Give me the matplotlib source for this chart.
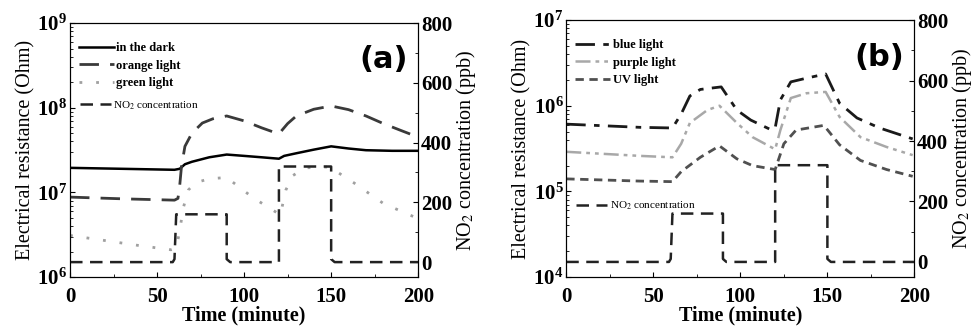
import matplotlib.pyplot as plt
from matplotlib.lines import Line2D

plt.rcParams['font.family'] = ['Liberation Serif', 'DejaVu Serif']
plt.rcParams['mathtext.fontset'] = 'stix'

# NO2 steps (shared by both panels)
no2_t = [0, 59, 60, 61, 90, 90, 92, 120, 120, 150, 150, 152, 200]
no2_c = [0, 0, 10, 160, 160, 10, 0, 0, 320, 320, 10, 0, 0]

# panel (a)
dark_t = [0, 30, 60, 63, 66, 70, 80, 90, 100, 110, 120, 123, 130, 140, 150, 160, 170, 185, 200]
dark_r = [1.95e7, 1.9e7, 1.85e7, 1.9e7, 2.15e7, 2.3e7, 2.6e7, 2.8e7, 2.7e7, 2.6e7, 2.5e7,
          2.7e7, 2.9e7, 3.2e7, 3.5e7, 3.3e7, 3.15e7, 3.1e7, 3.1e7]
orange_t = [0, 30, 60, 62, 63, 64, 66, 70, 76, 82, 90, 100, 110, 120, 122, 125, 130, 140, 150,
            160, 170, 180, 190, 200]
orange_r = [8.8e6, 8.4e6, 8.1e6, 8.5e6, 1.2e7, 2e7, 3.5e7, 5e7, 6.6e7, 7.4e7, 8e7, 7e7, 5.8e7,
            4.9e7, 5.5e7, 6.5e7, 8e7, 9.6e7, 1.05e8, 9.5e7, 8e7, 6.5e7, 5.4e7, 4.5e7]
green_t = [0, 20, 40, 58, 61, 63, 65, 68, 72, 80, 90, 105, 118, 121, 122, 124, 128, 135, 149,
           163, 180, 199]
green_r = [3.1e6, 2.7e6, 2.35e6, 2.1e6, 2.2e6, 3.5e6, 6.5e6, 1.07e7, 1.3e7, 1.45e7, 1.5e7, 8.7e6,
           5.9e6, 5.4e6, 7e6, 1.07e7, 1.58e7, 1.95e7, 2e7, 1.3e7, 7.4e6, 5e6]

# panel (b)
blue_t = [0, 42, 61, 66, 71, 77, 89, 98, 106, 118, 120, 123, 129, 138, 149, 157, 167, 180, 199]
blue_r = [6.1e5, 5.6e5, 5.5e5, 8.0e5, 1.3e6, 1.55e6, 1.66e6, 8.9e5, 6.8e5, 5.2e5, 5.5e5, 1.17e6,
          1.9e6, 2.1e6, 2.35e6, 1.07e6, 7.2e5, 5.5e5, 4.1e5]
purple_t = [0, 42, 61, 66, 71, 81, 88, 98, 107, 120, 123, 129, 138, 149, 157, 169, 184, 199]
purple_r = [2.9e5, 2.6e5, 2.5e5, 3.6e5, 6.3e5, 8.9e5, 1e6, 6.3e5, 4.3e5, 3.1e5, 5.2e5, 1.23e6,
            1.4e6, 1.45e6, 7.4e5, 4.3e5, 3.3e5, 2.65e5]
uv_t = [0, 42, 61, 66, 77, 88, 98, 107, 120, 125, 132, 148, 157, 169, 184, 199]
uv_r = [1.4e5, 1.32e5, 1.3e5, 1.7e5, 2.5e5, 3.4e5, 2.4e5, 2.0e5, 1.8e5, 3.6e5, 5.2e5, 5.9e5,
        3.5e5, 2.3e5, 1.8e5, 1.5e5]

fig = plt.figure(figsize=(9.78, 3.35), dpi=100)
ax1 = fig.add_axes([0.0716, 0.173, 0.356, 0.758])
ax2 = fig.add_axes([0.579, 0.173, 0.356, 0.767])

TICK = 15


def style(ax, ylo, yhi, label):
    ax.set_yscale('log')
    ax.set_ylim(ylo, yhi)
    ax.set_xlim(0, 200)
    ax.set_xticks([0, 50, 100, 150, 200])
    ax.set_xticks(range(0, 201, 25), minor=True)
    ax.tick_params(which='both', direction='in', labelsize=TICK)
    ax.tick_params(axis='y', which='major', pad=2)
    ax.tick_params(axis='x', which='major', pad=7)
    for lab in ax.get_xticklabels() + ax.get_yticklabels():
        lab.set_fontweight('bold')
    ax.set_xlabel('Time (minute)', fontsize=14.5, fontweight='bold', labelpad=-1)
    ax.set_ylabel('Electrical resistance (Ohm)', fontsize=14.5, labelpad=1)
    ax.text(0.9, 0.855, label, transform=ax.transAxes, fontsize=22, fontweight='bold',
            family=['DejaVu Sans'], ha='center', va='center')
    tw = ax.twinx()
    tw.set_ylim(-50, 800)
    tw.set_yticks([0, 200, 400, 600, 800])
    tw.set_yticks(range(0, 801, 100), minor=True)
    tw.tick_params(which='both', direction='in', labelsize=TICK, pad=2)
    for lab in tw.get_yticklabels():
        lab.set_fontweight('bold')
    tw.set_ylabel('NO$_2$ concentration (ppb)', fontsize=14.5, labelpad=1)
    tw.plot(no2_t, no2_c, color='#222222', lw=1.8, dashes=(5, 3))
    return tw


tw1 = style(ax1, 1e6, 1e9, '(a)')
ax1.plot(dark_t, dark_r, color='black', lw=1.8, label='in the dark')
ax1.plot(orange_t, orange_r, color='#3a3a3a', lw=2.0, dashes=(7, 4), label='orange light')
ax1.plot(green_t, green_r, color='#a0a0a0', lw=2.0, dashes=(1, 5), label='green light')
leg = ax1.legend(loc='upper left', bbox_to_anchor=(0.0, 0.96), frameon=False,
                 prop={'size': 9, 'weight': 'bold'}, handlelength=2.8, handletextpad=0.2,
                 labelspacing=0.45, borderaxespad=0.3)
nh = Line2D([], [], color='#222222', lw=1.8, dashes=(5, 3))
ax1.add_artist(leg)
ax1.legend([nh], ['NO$_2$ concentration'], loc='upper left', bbox_to_anchor=(0.0, 0.74),
           frameon=False, prop={'size': 8}, handlelength=2.8, handletextpad=0.2)

tw2 = style(ax2, 1e4, 1e7, '(b)')
ax2.plot(blue_t, blue_r, color='#1a1a1a', lw=2.0, dashes=(7, 3, 2, 3), label='blue light')
ax2.plot(purple_t, purple_r, color='#a8a8a8', lw=1.8, dashes=(6, 2, 1.5, 2, 1.5, 2),
         label='purple light')
ax2.plot(uv_t, uv_r, color='#505050', lw=2.0, dashes=(3, 2), label='UV light')
leg2 = ax2.legend(loc='upper left', bbox_to_anchor=(0.0, 0.96), frameon=False,
                  prop={'size': 9, 'weight': 'bold'}, handlelength=2.8, handletextpad=0.2,
                  labelspacing=0.45, borderaxespad=0.3)
ax2.add_artist(leg2)
ax2.legend([nh], ['NO$_2$ concentration'], loc='upper left', bbox_to_anchor=(0.0, 0.34),
           frameon=False, prop={'size': 8}, handlelength=2.8, handletextpad=0.2)

fig.savefig('out.png', dpi=100)
